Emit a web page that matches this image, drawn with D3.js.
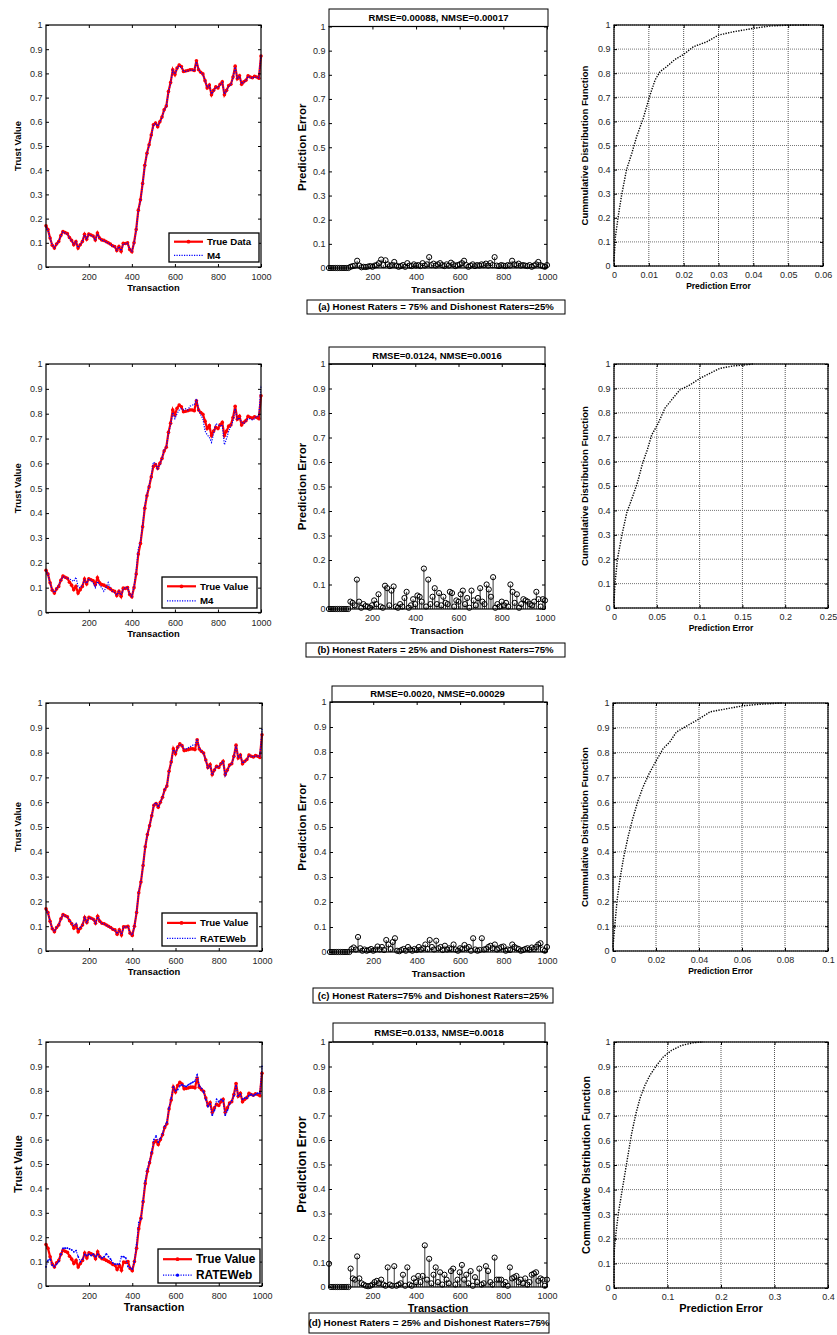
<!DOCTYPE html>
<html><head><meta charset="utf-8">
<script src="https://cdn.jsdelivr.net/npm/d3@7"></script>
<style>body{margin:0;background:#fff}svg{display:block}</style>
</head><body>
<svg id="c" width="837" height="1335"></svg>
<script>
// ---------------- DATA ----------------
const transactions = [1,10,20,30,40,50,60,70,80,90,
100,110,120,130,140,150,160,170,180,190,
200,210,220,230,240,250,260,270,280,290,
300,310,320,330,340,350,360,370,380,390,
400,410,420,430,440,450,460,470,480,490,
500,510,520,530,540,550,560,570,580,590,
600,610,620,630,640,650,660,670,680,690,
700,710,720,730,740,750,760,770,780,790,
800,810,820,830,840,850,860,870,880,890,
900,910,920,930,940,950,960,970,980,990,1000];

const trueValue = [0.17,0.155,0.12,0.09,0.078,0.095,0.105,0.13,0.147,0.142,
0.138,0.122,0.11,0.092,0.105,0.078,0.092,0.105,0.135,0.115,
0.136,0.132,0.128,0.112,0.14,0.12,0.112,0.11,0.105,0.1,
0.095,0.088,0.085,0.068,0.085,0.065,0.098,0.097,0.1,0.072,
0.063,0.1,0.155,0.235,0.278,0.345,0.42,0.47,0.505,0.545,
0.588,0.595,0.58,0.6,0.62,0.65,0.665,0.725,0.762,0.815,
0.795,0.822,0.835,0.828,0.808,0.81,0.812,0.815,0.815,0.812,
0.852,0.815,0.805,0.798,0.77,0.74,0.752,0.712,0.73,0.745,
0.74,0.755,0.765,0.712,0.73,0.75,0.755,0.785,0.83,0.778,
0.79,0.755,0.765,0.772,0.79,0.785,0.782,0.788,0.785,0.78,0.872];

const m4A = [0.168,0.152,0.118,0.092,0.08,0.094,0.106,0.128,0.145,0.14,
0.136,0.12,0.108,0.095,0.104,0.08,0.093,0.104,0.133,0.117,
0.134,0.13,0.126,0.11,0.137,0.118,0.11,0.108,0.104,0.098,
0.094,0.087,0.083,0.07,0.084,0.067,0.096,0.095,0.098,0.074,
0.065,0.098,0.152,0.232,0.275,0.342,0.418,0.468,0.502,0.542,
0.585,0.593,0.582,0.598,0.618,0.648,0.663,0.722,0.76,0.812,
0.797,0.82,0.832,0.826,0.81,0.808,0.81,0.813,0.814,0.81,
0.848,0.817,0.803,0.796,0.772,0.742,0.75,0.715,0.728,0.743,
0.742,0.753,0.762,0.715,0.728,0.748,0.753,0.782,0.826,0.78,
0.788,0.757,0.763,0.77,0.788,0.783,0.78,0.786,0.783,0.782,0.876];

const m4B = [0.17,0.155,0.118,0.092,0.08,0.095,0.108,0.13,0.145,0.14,
0.138,0.135,0.13,0.125,0.142,0.105,0.098,0.11,0.13,0.118,
0.135,0.128,0.12,0.1,0.125,0.11,0.1,0.085,0.1,0.12,
0.095,0.085,0.08,0.07,0.085,0.07,0.095,0.1,0.1,0.075,
0.065,0.105,0.165,0.258,0.285,0.35,0.43,0.475,0.51,0.55,
0.605,0.6,0.578,0.595,0.62,0.655,0.665,0.72,0.755,0.805,
0.78,0.8,0.815,0.82,0.815,0.82,0.815,0.83,0.835,0.835,
0.86,0.815,0.795,0.78,0.73,0.715,0.705,0.685,0.72,0.76,
0.755,0.75,0.755,0.675,0.7,0.73,0.75,0.77,0.82,0.775,
0.785,0.765,0.76,0.77,0.78,0.78,0.775,0.78,0.79,0.79,0.915];

const rateWebC = [0.168,0.153,0.12,0.091,0.079,0.095,0.105,0.129,0.146,0.141,
0.137,0.124,0.113,0.1,0.112,0.085,0.094,0.105,0.134,0.116,
0.135,0.131,0.127,0.112,0.138,0.119,0.111,0.109,0.104,0.099,
0.094,0.088,0.084,0.069,0.085,0.066,0.097,0.097,0.099,0.073,
0.064,0.1,0.158,0.24,0.28,0.345,0.422,0.47,0.505,0.545,
0.592,0.598,0.58,0.6,0.62,0.652,0.665,0.722,0.76,0.812,
0.8,0.82,0.832,0.83,0.815,0.815,0.82,0.825,0.83,0.83,
0.855,0.818,0.805,0.796,0.768,0.738,0.75,0.71,0.728,0.745,
0.742,0.755,0.765,0.708,0.728,0.748,0.755,0.784,0.828,0.78,
0.79,0.757,0.765,0.772,0.789,0.785,0.782,0.787,0.786,0.785,0.895];

const rateWebD = [0.078,0.105,0.11,0.085,0.08,0.09,0.1,0.13,0.155,0.155,
0.155,0.152,0.148,0.14,0.145,0.12,0.1,0.11,0.13,0.125,
0.13,0.125,0.13,0.12,0.13,0.12,0.115,0.12,0.132,0.12,
0.11,0.095,0.09,0.09,0.09,0.12,0.12,0.115,0.08,0.075,
0.07,0.1,0.17,0.26,0.275,0.35,0.43,0.48,0.51,0.55,
0.6,0.615,0.59,0.605,0.625,0.655,0.67,0.73,0.77,0.815,
0.8,0.805,0.82,0.825,0.82,0.818,0.825,0.83,0.835,0.84,
0.865,0.82,0.81,0.795,0.765,0.735,0.745,0.7,0.72,0.765,
0.755,0.765,0.76,0.7,0.72,0.745,0.76,0.78,0.82,0.78,
0.785,0.765,0.77,0.77,0.78,0.785,0.78,0.785,0.79,0.79,0.9];

const errA = [0,0,0,0,0,0,0,0,0,0,
0.005,0.008,0.01,0.03,0.01,0.003,0.005,0.004,0.006,0.008,
0.005,0.01,0.012,0.02,0.035,0.012,0.032,0.015,0.008,0.012,
0.025,0.01,0.005,0.008,0.012,0.005,0.02,0.01,0.008,0.015,
0.01,0.012,0.008,0.02,0.01,0.015,0.045,0.012,0.018,0.01,
0.015,0.02,0.012,0.008,0.015,0.01,0.022,0.015,0.008,0.012,
0.015,0.02,0.03,0.012,0.005,0.01,0.015,0.008,0.012,0.01,
0.015,0.012,0.018,0.01,0.02,0.012,0.045,0.01,0.008,0.012,
0.01,0.008,0.012,0.01,0.03,0.015,0.012,0.018,0.01,0.012,
0.01,0.008,0.012,0.005,0.01,0.015,0.025,0.012,0.008,0.005,0.012];

const errB = [0,0,0,0,0,0,0,0,0,0,
0.03,0.025,0.015,0.12,0.03,0.005,0.02,0.012,0.01,0.005,
0.015,0.035,0.02,0.06,0.01,0.005,0.095,0.085,0.015,0.075,
0.092,0.01,0.005,0.02,0.01,0.045,0.07,0.005,0.015,0.04,
0.02,0.055,0.05,0.03,0.165,0.01,0.12,0.02,0.05,0.085,
0.02,0.065,0.015,0.05,0.025,0.02,0.07,0.065,0.01,0.035,
0.03,0.06,0.075,0.02,0.045,0.005,0.075,0.035,0.015,0.045,
0.085,0.03,0.02,0.1,0.08,0.05,0.13,0.005,0.02,0.01,
0.03,0.015,0.025,0.01,0.1,0.07,0.025,0.06,0.005,0.02,
0.04,0.035,0.03,0.02,0.015,0.03,0.07,0.04,0.01,0.04,0.035];

const errC = [0,0,0,0,0,0,0,0,0,0,
0.012,0.018,0.01,0.06,0.015,0.005,0.01,0.005,0.008,0.012,
0.005,0.01,0.022,0.01,0.02,0.008,0.048,0.03,0.012,0.04,
0.055,0.005,0.003,0.008,0.012,0.005,0.02,0.01,0.005,0.012,
0.008,0.02,0.01,0.015,0.03,0.012,0.048,0.02,0.01,0.045,
0.015,0.02,0.008,0.025,0.01,0.015,0.012,0.03,0.01,0.005,
0.015,0.012,0.028,0.015,0.02,0.005,0.055,0.01,0.005,0.008,
0.055,0.01,0.012,0.02,0.025,0.015,0.03,0.01,0.015,0.02,
0.022,0.005,0.01,0.008,0.03,0.02,0.015,0.012,0.005,0.008,
0.012,0.015,0.01,0.018,0.012,0.02,0.03,0.035,0.01,0.005,0.02];

const errD = [0.095,0,0,0,0,0,0,0,0,0,
0.075,0.035,0.03,0.125,0.035,0.015,0.01,0.005,0.003,0.005,
0.01,0.02,0.025,0.015,0.03,0.01,0.005,0.08,0.01,0.005,
0.085,0.005,0.01,0.015,0.05,0.005,0.08,0.01,0.005,0.035,
0.02,0.045,0.02,0.045,0.17,0.03,0.115,0.015,0.05,0.08,
0.02,0.06,0.01,0.05,0.03,0.015,0.065,0.075,0.01,0.03,
0.06,0.09,0.03,0.05,0.015,0.065,0.005,0.04,0.02,0.075,
0.01,0.015,0.085,0.065,0.02,0.01,0.12,0.03,0.03,0.03,
0.01,0.02,0.005,0.08,0.035,0.04,0.045,0.02,0.03,0.015,
0.035,0.01,0.02,0.05,0.055,0.06,0.025,0.035,0.03,0.005,0.03];

const cdfErrA  = [0,0.0004,0.0012,0.0022,0.0036,0.0051,0.0065,0.0084,0.0102,0.0118,0.0132,0.0151,0.0175,0.02,0.0228,0.0266,0.03,0.0343,0.04,0.0449,0.0497,0.056];
const cdfProbA = [0.02,0.12,0.205,0.295,0.4,0.467,0.537,0.613,0.703,0.772,0.806,0.827,0.857,0.878,0.91,0.93,0.958,0.972,0.986,0.996,0.999,1.0];
const cdfErrB  = [0,0.0012,0.0039,0.0089,0.0148,0.0218,0.0272,0.0334,0.0389,0.044,0.0517,0.0595,0.0673,0.077,0.0886,0.1003,0.112,0.1236,0.139,0.155,0.1625];
const cdfProbB = [0.02,0.1,0.198,0.293,0.389,0.457,0.512,0.593,0.648,0.709,0.757,0.819,0.853,0.894,0.914,0.941,0.962,0.982,0.992,0.997,1.0];
const cdfErrC  = [0,0.0008,0.0019,0.0034,0.005,0.007,0.009,0.0117,0.014,0.0168,0.0202,0.0233,0.0264,0.0295,0.0334,0.0389,0.0451,0.0529,0.0607,0.0684,0.0785];
const cdfProbC = [0.017,0.098,0.205,0.299,0.38,0.46,0.528,0.608,0.662,0.715,0.769,0.816,0.843,0.883,0.903,0.93,0.964,0.977,0.989,0.995,1.0];
const cdfErrD  = [0,0.0006,0.0037,0.0081,0.0143,0.0205,0.0267,0.033,0.041,0.0485,0.0579,0.0672,0.0796,0.092,0.1076,0.1263,0.148,0.1667];
const cdfProbD = [0.02,0.155,0.223,0.304,0.385,0.466,0.547,0.628,0.709,0.77,0.824,0.865,0.905,0.939,0.966,0.986,0.997,1.0];

const trustTicks = [0,0.1,0.2,0.3,0.4,0.5,0.6,0.7,0.8,0.9,1];
const transTicks = [200,400,600,800,1000];
const cdfTicksA = [0,0.01,0.02,0.03,0.04,0.05,0.06];
const cdfTicksB = [0,0.05,0.1,0.15,0.2,0.25];
const cdfTicksC = [0,0.02,0.04,0.06,0.08,0.1];
const cdfTicksD = [0,0.1,0.2,0.3,0.4];

const trueNames = ["True Data","True Value","True Value","True Value"];
const predNames = ["M4","M4","RATEWeb","RATEWeb"];
const titles = ["RMSE=0.00088, NMSE=0.00017","RMSE=0.0124, NMSE=0.0016","RMSE=0.0020, NMSE=0.00029","RMSE=0.0133, NMSE=0.0018"];
const captions = ["(a) Honest Raters = 75% and Dishonest Raters=25%","(b) Honest Raters = 25% and Dishonest Raters=75%","(c) Honest Raters=75% and Dishonest Raters=25%","(d) Honest Raters = 25% and Dishonest Raters=75%"];
const cdfLabels = ["Cummulative Distribution Function","Cummulative Distribution Function","Cummulative Distribution Function","Commulative Distribution Function"];

// ---------------- LAYOUT ----------------
const FONT = '"Liberation Sans", Arial, Helvetica, sans-serif';
const svg = d3.select("#c");
const rows = [
 {pred:m4A, err:errA, cx:cdfErrA, cy:cdfProbA, ct:cdfTicksA, big:false,
  L:{x0:46,x1:261,y0:25,y1:267}, M:{x0:329,x1:547,y0:26.5,y1:268}, R:{x0:614,x1:823,y0:25,y1:266},
  T:{x0:329,x1:548,y0:9}, C:{x0:307,x1:565,y0:300,y1:314}, G:{x0:169,x1:259,y0:233,y1:262}},
 {pred:m4B, err:errB, cx:cdfErrB, cy:cdfProbB, ct:cdfTicksB, big:false,
  L:{x0:46,x1:261,y0:364,y1:612.5}, M:{x0:329,x1:545,y0:364,y1:609}, R:{x0:614,x1:828,y0:364,y1:608},
  T:{x0:329,x1:545,y0:347}, C:{x0:306,x1:565,y0:643,y1:657}, G:{x0:162,x1:257,y0:577,y1:608}},
 {pred:rateWebC, err:errC, cx:cdfErrC, cy:cdfProbC, ct:cdfTicksC, big:false,
  L:{x0:46,x1:262,y0:703,y1:951}, M:{x0:330,x1:547,y0:702,y1:952}, R:{x0:613,x1:828,y0:703,y1:951},
  T:{x0:332,x1:543,y0:686}, C:{x0:313,x1:553,y0:988,y1:1003}, G:{x0:162,x1:257,y0:913,y1:946}},
 {pred:rateWebD, err:errD, cx:cdfErrD, cy:cdfProbD, ct:cdfTicksD, big:true,
  L:{x0:46,x1:262,y0:1042,y1:1286}, M:{x0:329,x1:547,y0:1042,y1:1287}, R:{x0:614,x1:828,y0:1042,y1:1288},
  T:{x0:333,x1:545,y0:1023}, C:{x0:309,x1:549,y0:1313,y1:1333}, G:{x0:158,x1:260,y0:1249,y1:1283}}
];

const fmt = d => String(+d.toFixed(3));

function axes(p, x, y, xt, yt, xPad){
  const g = svg.append("g");
  g.append("g").attr("transform",`translate(${p.x0},0)`)
    .call(d3.axisLeft(y).tickValues(yt).tickSize(-3).tickPadding(3.5).tickFormat(fmt));
  g.append("g").attr("transform",`translate(${p.x1},0)`)
    .call(d3.axisRight(y).tickValues(yt).tickSize(-3).tickFormat(""));
  g.append("g").attr("transform",`translate(0,${p.y1})`)
    .call(d3.axisBottom(x).tickValues(xt).tickSize(-3).tickPadding(xPad).tickFormat(fmt));
  g.append("g").attr("transform",`translate(0,${p.y0})`)
    .call(d3.axisTop(x).tickValues(xt).tickSize(-3).tickFormat(""));
  g.selectAll(".domain").remove();
  g.selectAll(".tick line").attr("stroke","#000");
  g.selectAll(".tick text").attr("font-family",FONT).attr("font-size",9).attr("fill","#262626");
  g.append("rect").attr("x",p.x0).attr("y",p.y0).attr("width",p.x1-p.x0).attr("height",p.y1-p.y0)
    .attr("fill","none").attr("stroke","#000").attr("stroke-width",1.2);
}
function label(txt, x, y, size, rotate){
  const t = svg.append("text").attr("font-family",FONT).attr("font-weight","bold")
    .attr("font-size",size).attr("fill","#000").attr("text-anchor","middle").text(txt);
  if(rotate) t.attr("transform",`translate(${x},${y}) rotate(-90)`).attr("dy","0.35em");
  else t.attr("x",x).attr("y",y).attr("dy","0.35em");
}

rows.forEach((r,i)=>{
  // ---- left panel: trust values ----
  const L = r.L;
  const x = d3.scaleLinear().domain([1,1000]).range([L.x0,L.x1]);
  const y = d3.scaleLinear().domain([0,1]).range([L.y1,L.y0]);
  const line = d3.line().x((d,j)=>x(transactions[j])).y(d=>y(d));
  svg.append("path").datum(trueValue).attr("d",line).attr("fill","none")
    .attr("stroke","#ff0000").attr("stroke-width",2.2);
  svg.append("g").selectAll("circle").data(trueValue).join("circle")
    .attr("cx",(d,j)=>x(transactions[j])).attr("cy",d=>y(d)).attr("r",1.8).attr("fill","#ff0000");
  svg.append("path").datum(r.pred).attr("d",line).attr("fill","none")
    .attr("stroke","#0000ff").attr("stroke-width",1.2).attr("stroke-dasharray","1.2,1.3");
  if(r.big){
    svg.append("g").selectAll("circle").data(r.pred).join("circle")
      .attr("cx",(d,j)=>x(transactions[j])).attr("cy",d=>y(d)).attr("r",0.9).attr("fill","#0000ff");
  }
  axes(L,x,y,transTicks,trustTicks,7);
  const fsL = r.big ? 10.8 : 9.4;
  label("Trust Value", 18, (L.y0+L.y1)/2, fsL, true);
  label("Transaction", (L.x0+L.x1)/2, L.y1+21, fsL, false);
  // legend
  const G = r.G, h = G.y1-G.y0, fsG = r.big ? 11.9 : 9.7;
  svg.append("rect").attr("x",G.x0).attr("y",G.y0).attr("width",G.x1-G.x0).attr("height",h)
    .attr("fill","#fff").attr("stroke","#000").attr("stroke-width",1.3);
  const e1 = G.y0 + h*0.3, e2 = G.y0 + h*0.77;
  svg.append("line").attr("x1",G.x0+5).attr("x2",G.x0+34).attr("y1",e1).attr("y2",e1)
    .attr("stroke","#ff0000").attr("stroke-width",2.2);
  svg.append("circle").attr("cx",G.x0+19.5).attr("cy",e1).attr("r",1.9).attr("fill","#ff0000");
  svg.append("line").attr("x1",G.x0+5).attr("x2",G.x0+34).attr("y1",e2).attr("y2",e2)
    .attr("stroke","#0000ff").attr("stroke-width",1.2).attr("stroke-dasharray","1.2,1.3");
  if(r.big) svg.append("circle").attr("cx",G.x0+19.5).attr("cy",e2).attr("r",1.6).attr("fill","#0000ff");
  [[trueNames[i],e1],[predNames[i],e2]].forEach(([t,yy])=>{
    svg.append("text").attr("x",G.x0+38).attr("y",yy).attr("dy","0.35em")
      .attr("font-family",FONT).attr("font-weight","bold").attr("font-size",fsG).text(t);
  });

  // ---- middle panel: prediction error stems ----
  const M = r.M;
  const xm = d3.scaleLinear().domain([1,1000]).range([M.x0,M.x1]);
  const ym = d3.scaleLinear().domain([0,1]).range([M.y1,M.y0]);
  const sg = svg.append("g");
  sg.selectAll("line").data(r.err).join("line")
    .attr("x1",(d,j)=>xm(transactions[j])).attr("x2",(d,j)=>xm(transactions[j]))
    .attr("y1",ym(0)).attr("y2",d=>ym(d)).attr("stroke","#222").attr("stroke-width",0.9);
  sg.selectAll("circle").data(r.err).join("circle")
    .attr("cx",(d,j)=>xm(transactions[j])).attr("cy",d=>ym(d)).attr("r",2.6)
    .attr("fill","none").attr("stroke","#000").attr("stroke-width",1);
  axes(M,xm,ym,transTicks,trustTicks,6);
  label("Prediction Error", 302, (M.y0+M.y1)/2, r.big ? 12.7 : 11.5, true);
  label("Transaction", (M.x0+M.x1)/2, M.y1+21.5, r.big ? 10.8 : 9.5, false);
  // title box
  svg.append("rect").attr("x",r.T.x0).attr("y",r.T.y0).attr("width",r.T.x1-r.T.x0).attr("height",M.y0-r.T.y0)
    .attr("fill","none").attr("stroke","#000").attr("stroke-width",1);
  svg.append("text").attr("x",(r.T.x0+r.T.x1)/2).attr("y",(r.T.y0+M.y0)/2).attr("dy","0.35em")
    .attr("text-anchor","middle").attr("font-family",FONT).attr("font-weight","bold").attr("font-size",9.5).text(titles[i]);
  // caption box
  const C = r.C;
  svg.append("rect").attr("x",C.x0).attr("y",C.y0).attr("width",C.x1-C.x0).attr("height",C.y1-C.y0)
    .attr("fill","#fff").attr("stroke","#000").attr("stroke-width",1);
  svg.append("text").attr("x",(C.x0+C.x1)/2).attr("y",(C.y0+C.y1)/2).attr("dy","0.35em")
    .attr("text-anchor","middle").attr("font-family",FONT).attr("font-weight","bold")
    .attr("font-size",r.big ? 9.8 : 9.6).text(captions[i]);

  // ---- right panel: CDF ----
  const R = r.R;
  const xr = d3.scaleLinear().domain([r.ct[0], r.ct[r.ct.length-1]]).range([R.x0,R.x1]);
  const yr = d3.scaleLinear().domain([0,1]).range([R.y1,R.y0]);
  const gg = svg.append("g");
  gg.selectAll("line.v").data(r.ct).join("line").attr("x1",d=>xr(d)).attr("x2",d=>xr(d))
    .attr("y1",R.y0).attr("y2",R.y1).attr("stroke","#555").attr("stroke-width",1).attr("stroke-dasharray","1,1");
  gg.selectAll("line.h").data(trustTicks).join("line").attr("x1",R.x0).attr("x2",R.x1)
    .attr("y1",d=>yr(d)).attr("y2",d=>yr(d)).attr("stroke","#777").attr("stroke-width",1).attr("stroke-dasharray","1,1");
  const cl = d3.line().x((d,j)=>xr(r.cx[j])).y(d=>yr(d));
  svg.append("path").datum(r.cy).attr("d",cl).attr("fill","none").attr("stroke","#000")
    .attr("stroke-width",1.4).attr("stroke-dasharray","1.3,1.3");
  axes(R,xr,yr,r.ct,trustTicks,5.5);
  label(cdfLabels[i], r.big ? 586 : 585, (R.y0+R.y1)/2, r.big ? 10.7 : 9.6, true);
  label("Prediction Error", (R.x0+R.x1)/2, R.y1+20, r.big ? 11 : 8.5, false);
});
</script>
</body></html>
